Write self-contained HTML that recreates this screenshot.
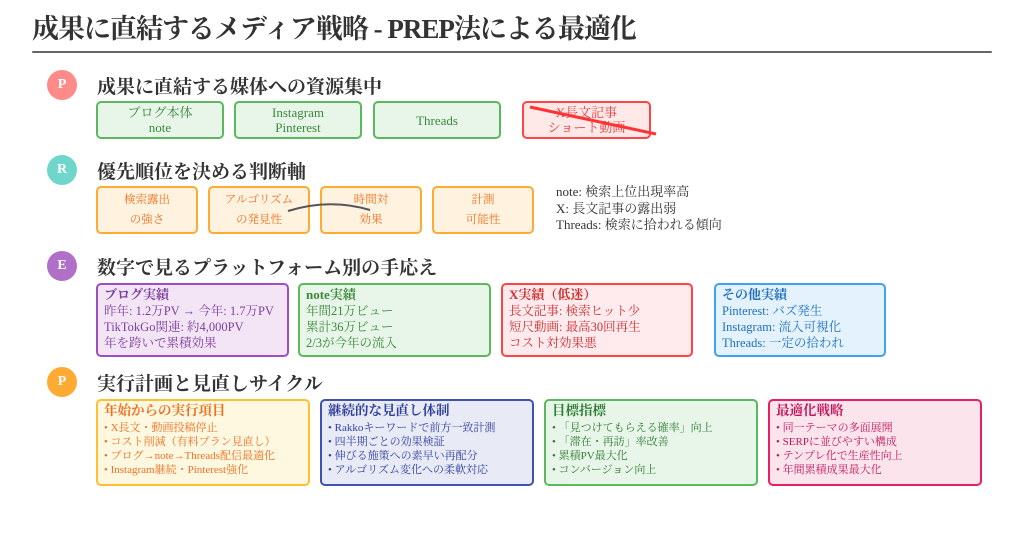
<!DOCTYPE html>
<html><head><meta charset="utf-8"><style>
*{margin:0;padding:0;box-sizing:border-box}
body{width:1024px;height:533px;background:#fff;position:relative;overflow:hidden;font-family:"Liberation Serif","Noto Serif CJK JP","Noto Serif CJK SC",serif;color:#333}
.a{position:absolute}
.t{font-size:27px;font-weight:bold;left:32px;top:7px;color:#333;letter-spacing:-1px}
.hr{left:32px;top:51px;width:960px;height:2px;background:#666;border-radius:2px}
.c{width:30px;height:30px;border-radius:50%;color:#fff;font-weight:bold;font-size:14px;display:flex;align-items:center;justify-content:center;left:47px}
.h{left:97px;font-size:19px;font-weight:bold;color:#333}
.b{border:2px solid;border-radius:5px;display:flex;flex-direction:column;align-items:center;justify-content:center;text-align:center;font-size:13px;line-height:15px}
.g{background:#e8f5e9;border-color:#5cb85c;color:#3a8a3a}
.o{background:#fff3e0;border-color:#ffaa33;color:#f07020;font-size:11.5px;line-height:20px}
.e{border:2px solid;border-radius:5px;padding:2px 6px;font-size:12.5px;line-height:16px}
.e b{font-size:13px}
.f{border:2px solid;border-radius:5px;padding:3px 6px;font-size:11px;line-height:14px}
.f b{font-size:13.5px;display:block;margin-bottom:3px}
</style></head><body>
<div class="a t">成果に直結するメディア戦略 - PREP法による最適化</div>
<div class="a hr"></div>

<div class="a c" style="top:70px;background:#ff8a8a">P</div>
<div class="a h" style="top:72px">成果に直結する媒体への資源集中</div>
<div class="a b g" style="left:96px;top:101px;width:128px;height:38px">ブログ本体<br>note</div>
<div class="a b g" style="left:234px;top:101px;width:128px;height:38px">Instagram<br>Pinterest</div>
<div class="a b g" style="left:373px;top:101px;width:128px;height:38px">Threads</div>
<div class="a b" style="left:522px;top:101px;width:129px;height:38px;background:#ffe8e8;border-color:#f44;color:#e04040">X長文記事<br>ショート動画</div>

<div class="a c" style="top:155px;background:#6fd6cc">R</div>
<div class="a h" style="top:157px">優先順位を決める判断軸</div>
<div class="a b o" style="left:96px;top:186px;width:102px;height:48px">検索露出<br>の強さ</div>
<div class="a b o" style="left:208px;top:186px;width:102px;height:48px">アルゴリズム<br>の発見性</div>
<div class="a b o" style="left:320px;top:186px;width:102px;height:48px">時間対<br>効果</div>
<div class="a b o" style="left:432px;top:186px;width:102px;height:48px">計測<br>可能性</div>
<svg class="a" style="left:0;top:0" width="1024" height="533"><line x1="530" y1="107" x2="656" y2="134" stroke="#f33" stroke-width="3"/>
<path d="M288 211 Q330 198 370 210" stroke="#555" stroke-width="2" fill="none"/></svg>
<div class="a" style="left:556px;top:184px;font-size:13px;line-height:16.5px;color:#333">note: 検索上位出現率高<br>X: 長文記事の露出弱<br>Threads: 検索に拾われる傾向</div>

<div class="a c" style="top:251px;background:#b070c8">E</div>
<div class="a h" style="top:253px">数字で見るプラットフォーム別の手応え</div>
<div class="a e" style="left:96px;top:283px;width:193px;height:74px;background:#f3e5f5;border-color:#9c4fc0;color:#7b3fa0"><b>ブログ実績</b><br>昨年: 1.2万PV → 今年: 1.7万PV<br>TikTokGo関連: 約4,000PV<br>年を跨いで累積効果</div>
<div class="a e" style="left:298px;top:283px;width:193px;height:74px;background:#e8f5e9;border-color:#5cb85c;color:#3a8a3a"><b>note実績</b><br>年間21万ビュー<br>累計36万ビュー<br>2/3が今年の流入</div>
<div class="a e" style="left:501px;top:283px;width:192px;height:74px;background:#ffebee;border-color:#f44;color:#d03030"><b>X実績（低迷）</b><br>長文記事: 検索ヒット少<br>短尺動画: 最高30回再生<br>コスト対効果悪</div>
<div class="a e" style="left:714px;top:283px;width:172px;height:74px;background:#e3f2fd;border-color:#42a0f0;color:#1f70c0"><b>その他実績</b><br>Pinterest: バズ発生<br>Instagram: 流入可視化<br>Threads: 一定の拾われ</div>

<div class="a c" style="top:367px;background:#ffaa33">P</div>
<div class="a h" style="top:369px">実行計画と見直しサイクル</div>
<div class="a f" style="left:96px;top:399px;width:214px;height:87px;background:#fff8e1;border-color:#ffc030;color:#f07020"><b>年始からの実行項目</b>• X長文・動画投稿停止<br>• コスト削減（有料プラン見直し）<br>• ブログ→note→Threads配信最適化<br>• Instagram継続・Pinterest強化</div>
<div class="a f" style="left:320px;top:399px;width:214px;height:87px;background:#e8eaf6;border-color:#3f51b5;color:#303f9f"><b>継続的な見直し体制</b>• Rakkoキーワードで前方一致計測<br>• 四半期ごとの効果検証<br>• 伸びる施策への素早い再配分<br>• アルゴリズム変化への柔軟対応</div>
<div class="a f" style="left:544px;top:399px;width:214px;height:87px;background:#e8f5e9;border-color:#5cb85c;color:#2e7d32"><b>目標指標</b>• 「見つけてもらえる確率」向上<br>• 「滞在・再訪」率改善<br>• 累積PV最大化<br>• コンバージョン向上</div>
<div class="a f" style="left:768px;top:399px;width:214px;height:87px;background:#fce4ec;border-color:#e91e63;color:#c2185b"><b>最適化戦略</b>• 同一テーマの多面展開<br>• SERPに並びやすい構成<br>• テンプレ化で生産性向上<br>• 年間累積成果最大化</div>
</body></html>
